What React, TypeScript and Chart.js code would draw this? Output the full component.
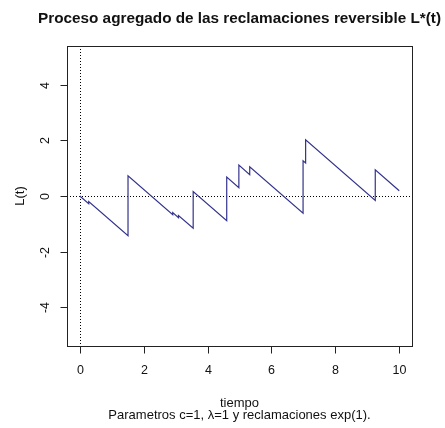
import React, { useEffect, useRef } from "react";
import { Chart, registerables } from "chart.js";

Chart.register(...registerables);

// Trajectory of the reversed aggregate claims process: vertex times and levels
// (each claim adds a vertical jump, between claims the level falls with slope -c).
const tiempo = [0, 0.28, 0.28, 1.51, 1.51, 2.91, 2.91, 3.09, 3.09, 3.55, 3.55, 4.6, 4.6, 4.98, 4.98, 5.32, 5.32, 6.99, 6.99, 7.07, 7.07, 9.25, 9.25, 10];
const nivel = [0, -0.28, -0.2, -1.43, 0.73, -0.67, -0.6, -0.78, -0.7, -1.16, 0.16, -0.89, 0.68, 0.3, 1.11, 0.77, 1.05, -0.62, 1.27, 1.19, 2.02, -0.16, 0.94, 0.19];

const xTicks = [0, 2, 4, 6, 8, 10];
const yTicks = [-4, -2, 0, 2, 4];

const titulo = "Proceso agregado de las reclamaciones reversible L*(t)";
const etiquetaX = "tiempo";
const subtitulo = "Parametros c=1, \u03bb=1 y reclamaciones exp(1).";
const etiquetaY = "L(t)";

const FONT = "'Liberation Sans', Arial, Helvetica, sans-serif";

const baseAxesPlugin = {
  id: "baseAxes",
  beforeDatasetsDraw(chart: any) {
    const { ctx, chartArea: a, scales } = chart;
    const x0 = scales.x.getPixelForValue(0);
    const y0 = scales.y.getPixelForValue(0);
    ctx.save();
    ctx.strokeStyle = "#000";
    ctx.lineWidth = 1;
    ctx.setLineDash([1, 2]);
    ctx.beginPath();
    ctx.moveTo(a.left, Math.round(y0) + 0.5);
    ctx.lineTo(a.right, Math.round(y0) + 0.5);
    ctx.moveTo(Math.round(x0) + 0.5, a.top);
    ctx.lineTo(Math.round(x0) + 0.5, a.bottom);
    ctx.stroke();
    ctx.restore();
  },
  afterDraw(chart: any) {
    const { ctx, chartArea: a, scales } = chart;
    ctx.save();
    ctx.strokeStyle = "#222";
    ctx.fillStyle = "#111";
    ctx.lineWidth = 1;
    ctx.setLineDash([]);
    // plot frame
    ctx.strokeRect(Math.round(a.left) + 0.5, Math.round(a.top) + 0.5, Math.round(a.right - a.left), Math.round(a.bottom - a.top));

    // x axis ticks and labels
    const bx = Math.round(a.bottom) + 0.5;
    ctx.beginPath();
    const xs = xTicks.map((v) => Math.round(scales.x.getPixelForValue(v)) + 0.5);
    xs.forEach((px) => {
      ctx.moveTo(px, bx);
      ctx.lineTo(px, bx + 7);
    });
    ctx.stroke();
    ctx.font = `12.5px ${FONT}`;
    ctx.textAlign = "center";
    ctx.textBaseline = "middle";
    xTicks.forEach((v, i) => ctx.fillText(String(v), xs[i], 371));

    // y axis ticks and labels
    const lx = Math.round(a.left) + 0.5;
    const ys = yTicks.map((v) => Math.round(scales.y.getPixelForValue(v)) + 0.5);
    ctx.beginPath();
    ys.forEach((py) => {
      ctx.moveTo(lx, py);
      ctx.lineTo(lx - 7, py);
    });
    ctx.stroke();
    yTicks.forEach((v, i) => {
      ctx.save();
      ctx.translate(46, ys[i]);
      ctx.rotate(-Math.PI / 2);
      ctx.fillText(String(v), 0, 0);
      ctx.restore();
    });

    // axis titles
    ctx.font = `13px ${FONT}`;
    ctx.save();
    ctx.translate(20, (a.top + a.bottom) / 2);
    ctx.rotate(-Math.PI / 2);
    ctx.fillText(etiquetaY, 0, 0);
    ctx.restore();
    const cx = (a.left + a.right) / 2;
    ctx.fillText(etiquetaX, cx, 403);
    ctx.fillText(subtitulo, cx, 415);

    // main title
    ctx.font = `bold 15.3px ${FONT}`;
    ctx.fillText(titulo, cx, 19);
    ctx.restore();
  },
};

export default function App() {
  const canvasRef = useRef<HTMLCanvasElement | null>(null);

  useEffect(() => {
    if (!canvasRef.current) return;
    const puntos = tiempo.map((t, i) => ({ x: t, y: nivel[i] }));
    const chart = new Chart(canvasRef.current, {
      type: "line",
      data: {
        datasets: [
          {
            data: puntos,
            borderColor: "#33338c",
            borderWidth: 1.2,
            pointRadius: 0,
            tension: 0,
            fill: false,
          },
        ],
      },
      options: {
        animation: false,
        responsive: false,
        maintainAspectRatio: false,
        devicePixelRatio: 1,
        layout: { padding: { left: 67, right: 33, top: 46, bottom: 82 } },
        plugins: { legend: { display: false }, tooltip: { enabled: false }, title: { display: false } },
        scales: {
          x: { type: "linear", min: -0.4, max: 10.4, display: false },
          y: { type: "linear", min: -5.4, max: 5.4, display: false },
        },
      },
      plugins: [baseAxesPlugin],
    });
    return () => chart.destroy();
  }, []);

  return (
    <div style={{ position: "fixed", left: 0, top: 0, width: 445, height: 428, background: "#fff" }}>
      <canvas ref={canvasRef} width={445} height={428} style={{ width: 445, height: 428, display: "block" }} />
    </div>
  );
}
